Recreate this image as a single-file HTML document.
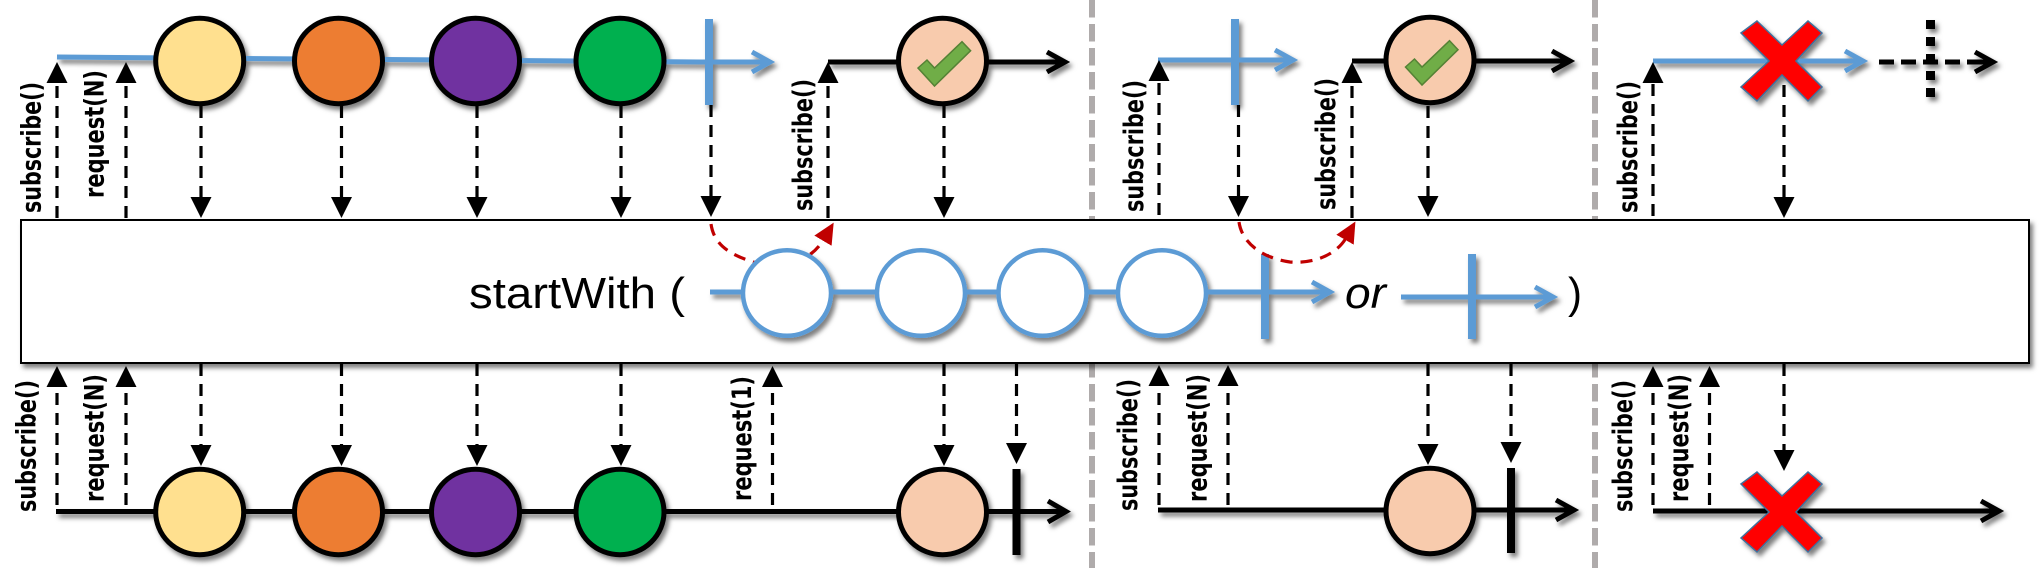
<!DOCTYPE html>
<html><head><meta charset="utf-8"><style>
html,body{margin:0;padding:0;background:#fff;width:2043px;height:572px;overflow:hidden}
svg{display:block}
.l{font-family:"DejaVu Sans",sans-serif;font-weight:bold;font-size:27px;fill:#000}
.t{font-family:"Liberation Sans",sans-serif;font-size:44px;fill:#000}
.d{stroke:#000;stroke-width:3.2;stroke-dasharray:12 8;fill:none}
.b{stroke:#5B9BD5;stroke-width:5;fill:none}
.k{stroke:#000;stroke-width:5;fill:none}
.c{stroke:#000;stroke-width:5}
.h{stroke:#5B9BD5;stroke-width:4.5;fill:#fff}
.x{fill:#f00;stroke:#41719C;stroke-width:1.5}
.v{fill:#70AD47;stroke:#548235;stroke-width:1.5}
.s{filter:url(#sh)}
</style></head><body>
<svg width="2043" height="572" viewBox="0 0 2043 572" xmlns="http://www.w3.org/2000/svg">
<defs>
<filter id="sh" x="-20%" y="-20%" width="140%" height="140%"><feDropShadow dx="3" dy="4" stdDeviation="2.5" flood-color="#000" flood-opacity=".5"/></filter>
<marker id="a" markerUnits="userSpaceOnUse" markerWidth="21" markerHeight="21" refX="0" refY="10.5" orient="auto"><path d="M0,0L21,10.5L0,21z" fill="#000"/></marker>
<marker id="r" markerUnits="userSpaceOnUse" markerWidth="21" markerHeight="20" refX="2" refY="10" orient="auto"><path d="M0,0L21,10L0,20z" fill="#C00000"/></marker>
</defs>

<g stroke="#AFABAB" stroke-width="6" stroke-dasharray="17.5 6.5" fill="none">
<line x1="1092" y1="0" x2="1092" y2="568"/>
<line x1="1595" y1="0" x2="1595" y2="568"/>
</g>

<rect x="21" y="220" width="2008" height="143" fill="#fff" stroke="#000" stroke-width="2" class="s"/>

<!-- top row -->
<g class="s">
<path class="b" d="M57,57L700,62L770,62M752,52L770,62L752,72"/>
<ellipse class="c" cx="199.700" cy="61" rx="44" ry="42.700" fill="#FFE08F"/>
<ellipse class="c" cx="338.500" cy="61" rx="44" ry="42.700" fill="#ED7D31"/>
<ellipse class="c" cx="475.500" cy="61" rx="44" ry="42.700" fill="#7030A0"/>
<ellipse class="c" cx="620" cy="61" rx="44" ry="42.700" fill="#00B050"/>
<rect x="705" y="19" width="8" height="86" fill="#5B9BD5"/>
<path class="k" d="M828,62L1064,62M1047,52L1065,62L1047,72"/>
<ellipse class="c" cx="942.500" cy="61" rx="44" ry="42.700" fill="#F8CBAD"/>
<polygon class="v" points="918,68 927,60 934.500,68 962,41.700 970.600,50.700 934.500,86"/>
<path class="b" d="M1158,60L1293,60M1275,50L1293,60L1275,70"/>
<rect x="1231" y="19" width="8" height="86" fill="#5B9BD5"/>
<path class="k" d="M1352,61L1569,61M1552,51L1570,61L1552,71"/>
<ellipse class="c" cx="1430" cy="60" rx="44" ry="42.700" fill="#F8CBAD"/>
<polygon class="v" points="1405.500,67 1414.500,59 1422,67 1449.500,40.700 1458,49.700 1422,85"/>
<path class="b" d="M1653,61L1863,61M1845,51L1863,61L1845,71"/>
<polygon class="x" transform="translate(1782,61)" points="-25,-40 0,-16 26,-40 40,-28 14,0 40,26 26,40 0,14 -25,40 -41,26 -13,0 -41,-28"/>
<path d="M1879,62L1975,62" stroke="#000" stroke-width="5" stroke-dasharray="15 7" fill="none"/>
<path class="k" d="M1975,62L1992,62M1975,52L1993,62L1975,72"/>
<line x1="1930.500" y1="20" x2="1930.500" y2="102" stroke="#000" stroke-width="9" stroke-dasharray="9 8"/>
</g>

<!-- top dashed -->
<line class="d" x1="57" y1="218" x2="57" y2="83" marker-end="url(#a)"/>
<line class="d" x1="126" y1="218" x2="126" y2="83" marker-end="url(#a)"/>
<line class="d" x1="201" y1="106" x2="201" y2="197" marker-end="url(#a)"/>
<line class="d" x1="341.500" y1="106" x2="341.500" y2="197" marker-end="url(#a)"/>
<line class="d" x1="477" y1="106" x2="477" y2="197" marker-end="url(#a)"/>
<line class="d" x1="621" y1="106" x2="621" y2="197" marker-end="url(#a)"/>
<line class="d" x1="711" y1="105" x2="711" y2="196" marker-end="url(#a)"/>
<line class="d" x1="828" y1="218" x2="828" y2="83" marker-end="url(#a)"/>
<line class="d" x1="944" y1="106" x2="944" y2="197" marker-end="url(#a)"/>
<line class="d" x1="1159" y1="215" x2="1159" y2="81" marker-end="url(#a)"/>
<line class="d" x1="1238.500" y1="105" x2="1238.500" y2="196" marker-end="url(#a)"/>
<line class="d" x1="1352" y1="218" x2="1352" y2="83" marker-end="url(#a)"/>
<line class="d" x1="1428" y1="106" x2="1428" y2="196" marker-end="url(#a)"/>
<line class="d" x1="1653" y1="216" x2="1653" y2="83" marker-end="url(#a)"/>
<line class="d" x1="1784" y1="85" x2="1784" y2="197" marker-end="url(#a)"/>

<!-- red curve under circles -->
<path d="M711,224C714,245 730,254 750,261C775,270 808,266 824,239" fill="none" stroke="#C00000" stroke-width="3.2" stroke-dasharray="12 8" marker-end="url(#r)"/>

<!-- center row -->
<text class="t" x="469" y="308" textLength="216" lengthAdjust="spacingAndGlyphs">startWith (</text>
<g class="s">
<line class="b" x1="710" y1="292" x2="1330" y2="292"/>
<path class="b" d="M1312,282L1330,292L1312,302"/>
<ellipse class="h" cx="787" cy="293" rx="44" ry="42.800"/>
<ellipse class="h" cx="921" cy="293" rx="44" ry="42.800"/>
<ellipse class="h" cx="1042.500" cy="293" rx="44" ry="42.800"/>
<ellipse class="h" cx="1162" cy="293" rx="44" ry="42.800"/>
<rect x="1261" y="254" width="8" height="85" fill="#5B9BD5"/>
<path class="b" d="M1401,297L1553,297M1535,287L1553,297L1535,307"/>
<rect x="1468" y="254" width="8" height="85" fill="#5B9BD5"/>
</g>
<text class="t" x="1345" y="308" font-style="italic" textLength="41" lengthAdjust="spacingAndGlyphs">or</text>
<text class="t" x="1568" y="308" textLength="14" lengthAdjust="spacingAndGlyphs">)</text>

<path d="M1239,222C1242,243 1262,258 1290,262C1318,264 1338,252 1346,238" fill="none" stroke="#C00000" stroke-width="3.2" stroke-dasharray="12 8" marker-end="url(#r)"/>

<!-- bottom row -->
<g class="s">
<line class="k" x1="56" y1="511.500" x2="1065" y2="511.500"/>
<path class="k" d="M1048,501L1066,511.500L1048,522"/>
<ellipse class="c" cx="199.700" cy="512" rx="44" ry="42.700" fill="#FFE08F"/>
<ellipse class="c" cx="338.500" cy="512" rx="44" ry="42.700" fill="#ED7D31"/>
<ellipse class="c" cx="475.500" cy="512" rx="44" ry="42.700" fill="#7030A0"/>
<ellipse class="c" cx="620" cy="512" rx="44" ry="42.700" fill="#00B050"/>
<ellipse class="c" cx="942.500" cy="512" rx="44" ry="42.700" fill="#F8CBAD"/>
<rect x="1012.500" y="469" width="8" height="86" fill="#000"/>
<path class="k" d="M1158,510L1573,510M1556,500L1574,510L1556,520"/>
<ellipse class="c" cx="1430" cy="511" rx="44" ry="42.700" fill="#F8CBAD"/>
<rect x="1507" y="468" width="8" height="85" fill="#000"/>
<path class="k" d="M1653,511L1998,511M1981,501L1999,511L1981,521"/>
<polygon class="x" transform="translate(1782,512)" points="-25,-40 0,-16 26,-40 40,-28 14,0 40,26 26,40 0,14 -25,40 -41,26 -13,0 -41,-28"/>
</g>

<!-- bottom dashed -->
<line class="d" x1="57" y1="505" x2="57" y2="387" marker-end="url(#a)"/>
<line class="d" x1="126" y1="505" x2="126" y2="387" marker-end="url(#a)"/>
<line class="d" x1="201" y1="364" x2="201" y2="445" marker-end="url(#a)"/>
<line class="d" x1="341.500" y1="364" x2="341.500" y2="445" marker-end="url(#a)"/>
<line class="d" x1="477" y1="364" x2="477" y2="445" marker-end="url(#a)"/>
<line class="d" x1="621" y1="364" x2="621" y2="445" marker-end="url(#a)"/>
<line class="d" x1="772.500" y1="505" x2="772.500" y2="387" marker-end="url(#a)"/>
<line class="d" x1="944" y1="364" x2="944" y2="445" marker-end="url(#a)"/>
<line class="d" x1="1016.500" y1="364" x2="1016.500" y2="443" marker-end="url(#a)"/>
<line class="d" x1="1159" y1="505" x2="1159" y2="386" marker-end="url(#a)"/>
<line class="d" x1="1228" y1="505" x2="1228" y2="386" marker-end="url(#a)"/>
<line class="d" x1="1428" y1="364" x2="1428" y2="444" marker-end="url(#a)"/>
<line class="d" x1="1511" y1="364" x2="1511" y2="442" marker-end="url(#a)"/>
<line class="d" x1="1653" y1="505" x2="1653" y2="387" marker-end="url(#a)"/>
<line class="d" x1="1709.500" y1="505" x2="1709.500" y2="387" marker-end="url(#a)"/>
<line class="d" x1="1784" y1="364" x2="1784" y2="450" marker-end="url(#a)"/>

<!-- labels -->
<text class="l" transform="translate(40.700,213) rotate(-90)" textLength="131" lengthAdjust="spacingAndGlyphs">subscribe()</text>
<text class="l" transform="translate(103.500,198) rotate(-90)" textLength="128" lengthAdjust="spacingAndGlyphs">request(N)</text>
<text class="l" transform="translate(812,211) rotate(-90)" textLength="132" lengthAdjust="spacingAndGlyphs">subscribe()</text>
<text class="l" transform="translate(1143,212) rotate(-90)" textLength="132" lengthAdjust="spacingAndGlyphs">subscribe()</text>
<text class="l" transform="translate(1335,210) rotate(-90)" textLength="132" lengthAdjust="spacingAndGlyphs">subscribe()</text>
<text class="l" transform="translate(1637,213) rotate(-90)" textLength="132" lengthAdjust="spacingAndGlyphs">subscribe()</text>
<text class="l" transform="translate(35.700,512) rotate(-90)" textLength="132" lengthAdjust="spacingAndGlyphs">subscribe()</text>
<text class="l" transform="translate(103.500,502) rotate(-90)" textLength="128" lengthAdjust="spacingAndGlyphs">request(N)</text>
<text class="l" transform="translate(751,501) rotate(-90)" textLength="125" lengthAdjust="spacingAndGlyphs">request(1)</text>
<text class="l" transform="translate(1137,511) rotate(-90)" textLength="132" lengthAdjust="spacingAndGlyphs">subscribe()</text>
<text class="l" transform="translate(1206.500,502) rotate(-90)" textLength="128" lengthAdjust="spacingAndGlyphs">request(N)</text>
<text class="l" transform="translate(1632,512) rotate(-90)" textLength="132" lengthAdjust="spacingAndGlyphs">subscribe()</text>
<text class="l" transform="translate(1688,502) rotate(-90)" textLength="128" lengthAdjust="spacingAndGlyphs">request(N)</text>
</svg>
</body></html>
